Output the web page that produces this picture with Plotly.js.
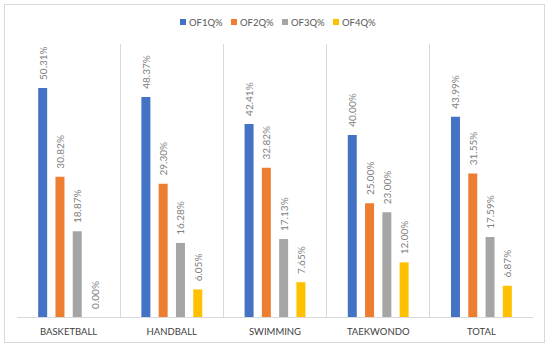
<!DOCTYPE html>
<html>
<head>
<meta charset="utf-8">
<script src="https://cdn.plot.ly/plotly-3.0.1.min.js"></script>
<style>
  html, body { margin: 0; padding: 0; background: #fff; }
  #wrap { position: relative; width: 550px; height: 347px; }
  #chart { width: 550px; height: 347px; }
  #frame { position: absolute; left: 4px; top: 4px; width: 539px; height: 337px; border: 1px solid #d9d9d9; pointer-events: none; }
</style>
</head>
<body>
<div id="wrap">
  <div id="chart"></div>
  <div id="frame"></div>
</div>
<script>
const categories = ["BASKETBALL", "HANDBALL", "SWIMMING", "TAEKWONDO", "TOTAL"];
const seriesNames = ["OF1Q%", "OF2Q%", "OF3Q%", "OF4Q%"];
const of1q = [50.31, 48.37, 42.41, 40.00, 43.99];
const of2q = [30.82, 29.30, 32.82, 25.00, 31.55];
const of3q = [18.87, 16.28, 17.13, 23.00, 17.59];
const of4q = [0.00, 6.05, 7.65, 12.00, 6.87];
const colors = ["#4472C4", "#ED7D31", "#A5A5A5", "#FFC000"];

const allValues = [of1q, of2q, of3q, of4q];
const font = "Lato, 'Open Sans', sans-serif";

// plot area in pixels
const M = { l: 17, r: 17, t: 44, b: 30 };
const W = 550, H = 347;
const pw = W - M.l - M.r, ph = H - M.t - M.b;
const px2x = p => (p - M.l) / pw;
const px2y = p => (H - M.b - p) / ph;

const traces = allValues.map((vals, i) => ({
  type: "bar",
  name: seriesNames[i],
  x: categories,
  y: vals,
  marker: { color: colors[i] },
  text: vals.map(v => "\u00A0\u00A0" + v.toFixed(2) + "%"),
  textposition: "outside",
  textangle: -90,
  constraintext: "none",
  textfont: { family: font, size: 10, color: "#808080" },
  cliponaxis: false,
  showlegend: false,
  hoverinfo: "skip"
}));

// custom compact legend (Excel-style)
const legendStart = 180, legendPitch = 51, legendY = 22, sq = 6;
const shapes = [];
const annotations = [];
seriesNames.forEach((name, i) => {
  const x0 = legendStart + i * legendPitch;
  shapes.push({
    type: "rect", xref: "paper", yref: "paper",
    x0: px2x(x0), x1: px2x(x0 + sq),
    y0: px2y(legendY + sq / 2), y1: px2y(legendY - sq / 2),
    fillcolor: colors[i], line: { width: 0 }
  });
  annotations.push({
    xref: "paper", yref: "paper",
    x: px2x(x0 + sq + 1), y: px2y(legendY),
    xanchor: "left", yanchor: "middle",
    text: name, showarrow: false,
    font: { family: font, size: 9.5, color: "#595959" }
  });
});

const layout = {
  width: W,
  height: H,
  margin: M,
  paper_bgcolor: "#ffffff",
  plot_bgcolor: "#ffffff",
  barmode: "group",
  bargap: 0.33,
  bargroupgap: 0.48,
  showlegend: false,
  shapes: shapes,
  annotations: annotations,
  xaxis: {
    type: "category",
    tickson: "boundaries",
    showgrid: true,
    gridcolor: "#d9d9d9",
    gridwidth: 1,
    showline: true,
    linecolor: "#d9d9d9",
    ticks: "",
    ticklabelstandoff: 6,
    tickfont: { family: font, size: 9.5, color: "#404040" },
    zeroline: false
  },
  yaxis: {
    range: [0, 60],
    showgrid: false,
    showticklabels: false,
    zeroline: false,
    showline: false,
    ticks: ""
  }
};

Plotly.newPlot("chart", traces, layout, { displayModeBar: false, staticPlot: true });
</script>
</body>
</html>
